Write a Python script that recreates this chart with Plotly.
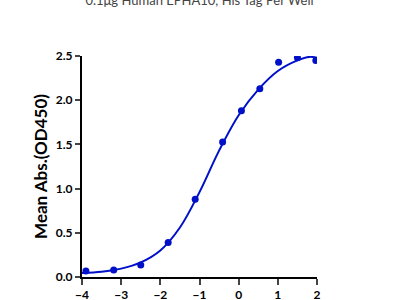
import plotly.graph_objects as go

# measured points (log concentration, OD450)
x_points = [-3.90, -3.19, -2.50, -1.80, -1.11, -0.41, 0.07, 0.54, 1.02, 1.50, 1.97]
y_points = [0.068, 0.080, 0.136, 0.390, 0.880, 1.527, 1.880, 2.130, 2.430, 2.480, 2.450]

# fitted curve
x_curve = [-4.0, -3.5, -3.0, -2.5, -2.0, -1.5, -1.0, -0.5, 0.0, 0.5, 1.0, 1.5, 1.8, 2.0]
y_curve = [0.045, 0.060, 0.095, 0.165, 0.300, 0.560, 0.960, 1.430, 1.830, 2.120, 2.330, 2.450, 2.490, 2.480]

x_ticks = [-4, -3, -2, -1, 0, 1, 2]
y_ticks = [0.0, 0.5, 1.0, 1.5, 2.0, 2.5]
y_tick_text = ["0.0", "0.5", "1.0", "1.5", "2.0", "2.5"]

blue = "#0010C8"

fig = go.Figure()
fig.add_trace(go.Scatter(x=x_curve, y=y_curve, mode="lines",
                         line=dict(color=blue, width=2, shape="spline", smoothing=1.0),
                         showlegend=False, hoverinfo="skip"))
fig.add_trace(go.Scatter(x=x_points, y=y_points, mode="markers",
                         marker=dict(color=blue, size=7),
                         showlegend=False))

fig.update_layout(
    width=400, height=300,
    margin=dict(l=82, r=83, t=56, b=23),
    paper_bgcolor="white", plot_bgcolor="white",
    font=dict(family="Lato", color="black"),
    title=dict(text="0.1μg Human EPHA10, His Tag Per Well",
               x=0.5, xanchor="center", xref="paper",
               y=1.0, yref="container", yanchor="middle",
               font=dict(family="Lato", size=13, color="#444444")),
)
fig.update_xaxes(range=[-4, 2], tickvals=x_ticks, ticks="outside", ticklen=6,
                 tickwidth=2, showline=True, linewidth=2, linecolor="black",
                 showgrid=False, zeroline=False, automargin=False,
                 tickfont=dict(family="Lato", size=12, color="black", weight="bold"))
fig.update_yaxes(range=[0, 2.5], tickvals=y_ticks, ticktext=y_tick_text,
                 ticks="outside", ticklen=5, tickwidth=2,
                 showline=True, linewidth=2, linecolor="black",
                 showgrid=False, zeroline=False, automargin=False,
                 tickfont=dict(family="Lato", size=12, color="black", weight="bold"),
                 title=dict(text="Mean Abs.(OD450)", standoff=4,
                            font=dict(family="Lato", size=17, color="black", weight="bold")))

fig.write_html("out.html")
